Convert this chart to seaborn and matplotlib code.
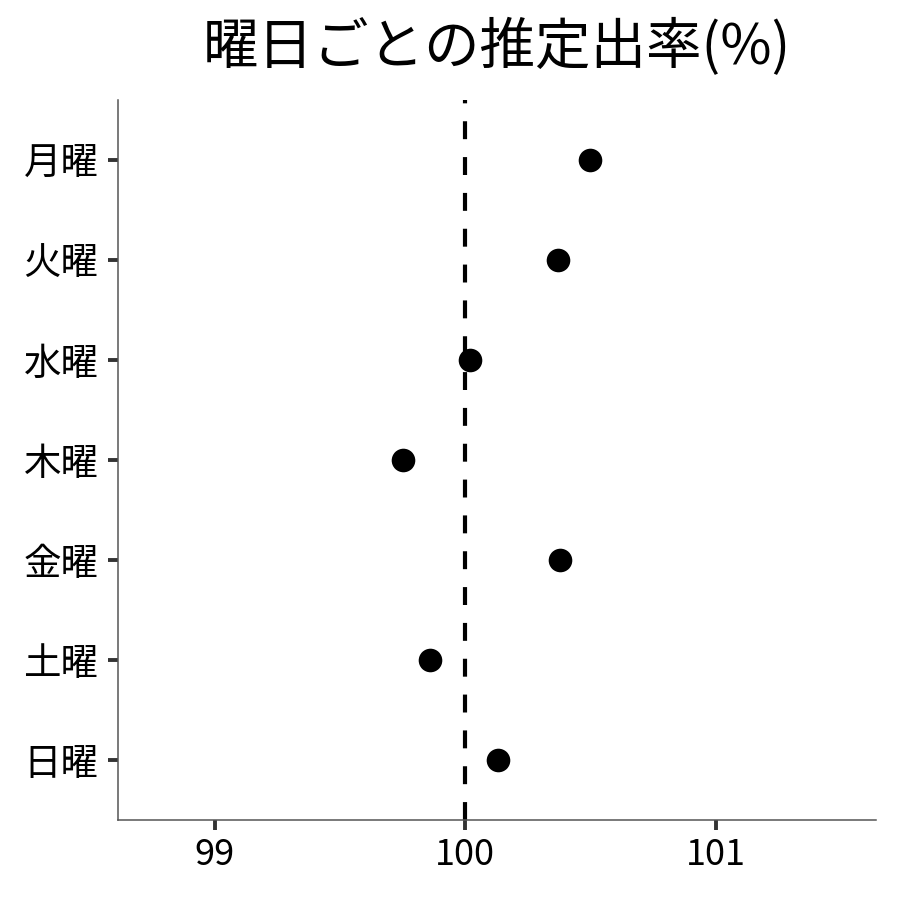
import matplotlib
matplotlib.use('Agg')
import matplotlib.pyplot as plt
import seaborn as sns
import pandas as pd

days = ['月曜', '火曜', '水曜', '木曜', '金曜', '土曜', '日曜']
rate = [100.50, 100.37, 100.02, 99.75, 100.38, 99.86, 100.13]
xticks = [99, 100, 101]

sns.set_theme(style='white')
plt.rcParams['font.family'] = ['Noto Sans CJK JP', 'DejaVu Sans']

df = pd.DataFrame({'day': days, 'rate': rate})

fig = plt.figure(figsize=(9, 9), dpi=100)
ax = fig.add_axes([0.131, 0.089, 0.842, 0.8])

# reference line at 100%
ax.axvline(100, color='black', lw=3, dashes=(4.3, 4.3), zorder=1)
sns.stripplot(data=df, x='rate', y='day', order=days, jitter=False,
              color='black', size=17, orient='h', ax=ax, zorder=3)

ax.set_xlim(98.613, 101.639)
ax.set_ylim(6.6, -0.6)
ax.set_xticks(xticks)
ax.set_xticklabels([str(t) for t in xticks])
ax.set_xlabel('')
ax.set_ylabel('')
ax.set_title('曜日ごとの推定出率(%)', fontsize=40, pad=26, color='black')

sns.despine(ax=ax)
for side in ['left', 'bottom']:
    ax.spines[side].set_color('#555555')
    ax.spines[side].set_linewidth(1.1)
ax.tick_params(axis='both', which='major', bottom=True, left=True,
               length=7, width=2.8, color='#333333', labelsize=26,
               labelcolor='black', pad=5)
ax.tick_params(axis='y', labelsize=27, pad=7)

fig.savefig('out.png', dpi=100)
